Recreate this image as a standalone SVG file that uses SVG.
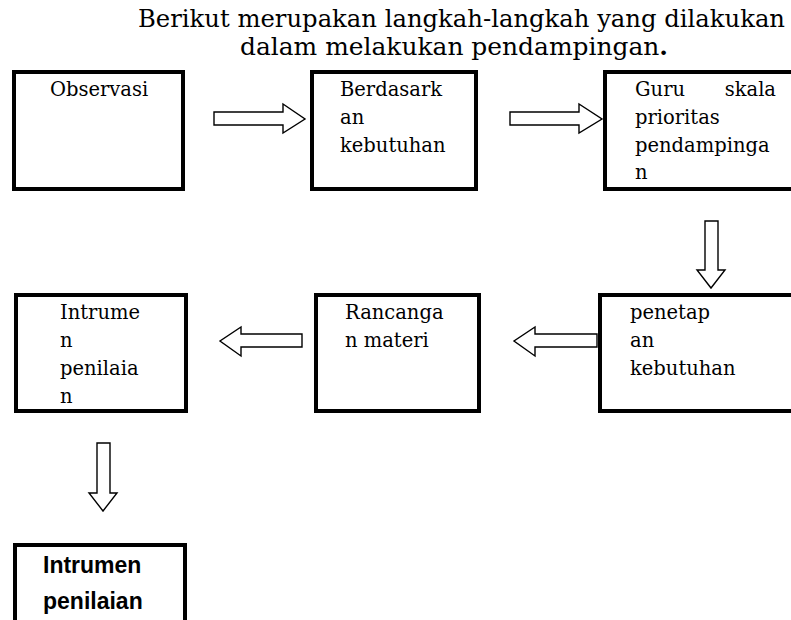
<svg xmlns="http://www.w3.org/2000/svg" width="791" height="620" viewBox="0 0 791 620">
<style>
.box{fill:#fff;stroke:#000;stroke-width:4}
.arr{fill:#fff;stroke:#000;stroke-width:1.4;stroke-linejoin:miter}
.t{font-family:"DejaVu Serif","Liberation Serif",serif;font-size:19.5px;fill:#000}
.title{font-family:"DejaVu Serif","Liberation Serif",serif;font-size:24px;fill:#000}
.b{font-family:"Liberation Sans",Arial,sans-serif;font-size:23px;font-weight:bold;fill:#000}
</style>
<rect width="791" height="620" fill="#fff"/>
<g id="title">
<text class="title" x="138" y="27" textLength="647" lengthAdjust="spacingAndGlyphs">Berikut merupakan langkah-langkah yang dilakukan</text>
<text class="title" x="240" y="55" textLength="428" lengthAdjust="spacingAndGlyphs">dalam melakukan pendampingan<tspan font-weight="bold">.</tspan></text>
</g>
<g id="connectors">
<polygon class="arr" points="214,112 283,112 283,104 305,119 283,133 283,125 214,125"/>
<polygon class="arr" points="510,112 579,112 579,104 602,119 579,133 579,125 510,125"/>
<polygon class="arr" points="705,221 718,221 718,270 725,270 711,288 697,270 705,270"/>
<polygon class="arr" points="597,334 535,334 535,327 514,341 535,356 535,347 597,347"/>
<polygon class="arr" points="302,334 241,334 241,327 220,341 241,356 241,347 302,347"/>
<polygon class="arr" points="97,443 110,443 110,493 117,493 103,511 89,493 97,493"/>
</g>
<g id="node-observasi">
<rect class="box" x="14" y="72" width="169" height="117"/>
<text class="t" x="50" y="96">Observasi</text>
</g>
<g id="node-berdasarkan">
<rect class="box" x="312" y="72" width="164" height="117"/>
<text class="t" x="340" y="96">Berdasark</text>
<text class="t" x="340" y="124">an</text>
<text class="t" x="340" y="152">kebutuhan</text>
</g>
<g id="node-guru">
<rect class="box" x="605" y="72" width="200" height="117"/>
<text class="t" x="635" y="96">Guru</text>
<text class="t" x="776" y="96" text-anchor="end">skala</text>
<text class="t" x="635" y="124">prioritas</text>
<text class="t" x="635" y="152">pendampinga</text>
<text class="t" x="635" y="179">n</text>
</g>
<g id="node-penetapan">
<rect class="box" x="600" y="295" width="205" height="116"/>
<text class="t" x="630" y="319">penetap</text>
<text class="t" x="630" y="347">an</text>
<text class="t" x="630" y="375">kebutuhan</text>
</g>
<g id="node-rancangan">
<rect class="box" x="316" y="295" width="163" height="116"/>
<text class="t" x="345" y="319">Rancanga</text>
<text class="t" x="345" y="347">n materi</text>
</g>
<g id="node-instrumen">
<rect class="box" x="16" y="295" width="170" height="116"/>
<text class="t" x="60" y="319">Intrume</text>
<text class="t" x="60" y="347">n</text>
<text class="t" x="60" y="375">penilaia</text>
<text class="t" x="60" y="403">n</text>
</g>
<g id="node-instrumen-bold">
<rect class="box" x="15" y="545" width="170" height="100"/>
<text class="b" x="43" y="573">Intrumen</text>
<text class="b" x="43" y="609">penilaian</text>
</g>
</svg>
